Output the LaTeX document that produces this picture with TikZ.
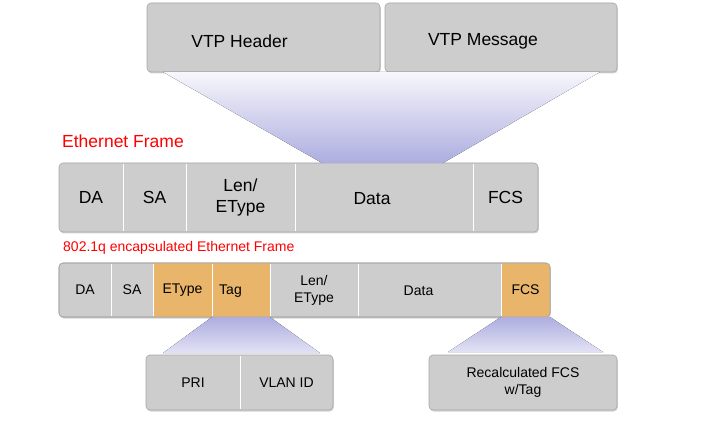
\documentclass[tikz,border=0pt]{standalone}
\usepackage{fontspec}
\setmainfont{Liberation Sans}
\usetikzlibrary{positioning,calc,shadows}

\definecolor{boxgray}{HTML}{CDCDCD}
\definecolor{boxedge}{HTML}{A6A6A6}
\definecolor{tagorange}{HTML}{E8B56A}
\definecolor{funnelblue}{HTML}{ADADE0}
\definecolor{framered}{HTML}{FF0000}

\begin{document}
\begin{tikzpicture}[x=1pt,y=-1pt,
  big/.style={font=\fontsize{17.5}{21}\selectfont},
  small/.style={font=\fontsize{14}{17}\selectfont},
  box/.style={draw=boxedge,fill=boxgray,rounded corners=4pt,line width=0.6pt,
    inner sep=0pt,outer sep=0pt,
    drop shadow={shadow xshift=0.8pt,shadow yshift=-1.5pt,opacity=0.35}},
  fld/.style={inner sep=0pt,outer sep=0pt,align=center,minimum height=#1},
  divider/.style={white,line width=1pt,shorten >=0.8pt,shorten <=0.8pt},
  redlabel/.style={text=framered,inner sep=0pt,anchor=base west}]
\useasboundingbox (0,0) rectangle (712,430);

% VTP boxes on top
\node[box,minimum width=233pt,minimum height=69pt,
  label={[big,xshift=-24pt,yshift=-3.5pt]center:VTP Header}] (hdr) at (263.5,37.5) {};
\node[box,minimum width=232pt,minimum height=69pt,
  label={[big,xshift=-18pt,yshift=-3.5pt]center:VTP Message}] (msg) at (501,37.5) {};

% Ethernet frame
\node[redlabel,big] (ethlabel) at (62,148) {Ethernet Frame};
\node[box,minimum width=479pt,minimum height=69pt] (eth) at (298.5,197.5) {};
\node[fld=69pt,big,minimum width=64pt] (eda) at (91,197.5) {DA};
\node[fld=69pt,big,minimum width=63pt] (esa) at (154.5,197.5) {SA};
\node[fld=69pt,big,minimum width=109pt] (elen) at (240.5,197.5) {Len/\\EType};
\node[fld=69pt,big,minimum width=178pt] (edata) at (384,197.5) {};
\node[big,inner sep=0pt] (edatatxt) at (372,199) {Data};
\node[fld=69pt,big,minimum width=65pt] (efcs) at (505.5,197.5) {FCS};
\foreach \f in {eda,esa,elen,edata}
  \draw[divider] (\f.north east) -- (\f.south east);

% funnel from VTP boxes into Data
\fill[top color=funnelblue!10,bottom color=funnelblue]
  ($(hdr.south west)+(16,0)$) -- ($(msg.south east)+(-17,0)$)
  -- ($(edata.north east)+(-30,0)$) -- ($(edata.north west)+(27,0)$) -- cycle;

% 802.1q frame
\node[redlabel,small] (dotlabel) at (63,251.5) {802.1q encapsulated Ethernet Frame};
\node[box,minimum width=491pt,minimum height=54pt] (dot) at (304.5,290) {};
\begin{scope}
  \clip[rounded corners=4pt] (dot.north west) rectangle (dot.south east);
  \fill[tagorange] (153,263) rectangle (270,317);
  \fill[tagorange] (501,263) rectangle (550,317);
\end{scope}
\draw[boxedge,line width=0.6pt,rounded corners=4pt] (dot.north west) rectangle (dot.south east);
\node[fld=54pt,small,minimum width=52pt] (qda) at (85,290) {DA};
\node[fld=54pt,small,minimum width=42pt] (qsa) at (132,290) {SA};
\node[fld=54pt,small,minimum width=59pt] (qet) at (182.5,290) {EType};
\node[fld=54pt,small,minimum width=58pt] (qtag) at (241,290) {};
\node[small,inner sep=0pt] (qtagtxt) at (230.5,291) {Tag};
\node[fld=54pt,small,minimum width=88pt] (qlen) at (314,290) {Len/\\EType};
\node[fld=54pt,small,minimum width=143pt] (qdata) at (429.5,290) {};
\node[small,inner sep=0pt] (qdatatxt) at (418.5,291) {Data};
\node[fld=54pt,small,minimum width=49pt] (qfcs) at (525.5,290) {FCS};
\foreach \f in {qda,qsa,qet,qtag,qlen,qdata}
  \draw[divider] (\f.north east) -- (\f.south east);

% tag details
\node[box,minimum width=187pt,minimum height=55pt] (tagbox) at (239.5,382.5) {};
\node[fld=55pt,small,minimum width=94pt] (pri) at (193,382.5) {PRI};
\node[fld=55pt,small,minimum width=93pt] (vlan) at (286.5,382.5) {VLAN ID};
\draw[divider] (pri.north east) -- (pri.south east);
\fill[top color=funnelblue,bottom color=funnelblue!35]
  (qtag.south west) -- (qtag.south east)
  -- ($(tagbox.north east)+(-13,-2)$) -- ($(tagbox.north west)+(17,-2)$) -- cycle;

% recalculated FCS
\node[box,small,align=center,minimum width=188pt,minimum height=55pt] (fcsbox) at (523,382.5) {Recalculated FCS\\w/Tag};
\fill[top color=funnelblue,bottom color=funnelblue!35]
  (qfcs.south west) -- (qfcs.south east)
  -- ($(fcsbox.north east)+(-14,-3)$) -- ($(fcsbox.north west)+(19,-3)$) -- cycle;

\end{tikzpicture}
\end{document}
